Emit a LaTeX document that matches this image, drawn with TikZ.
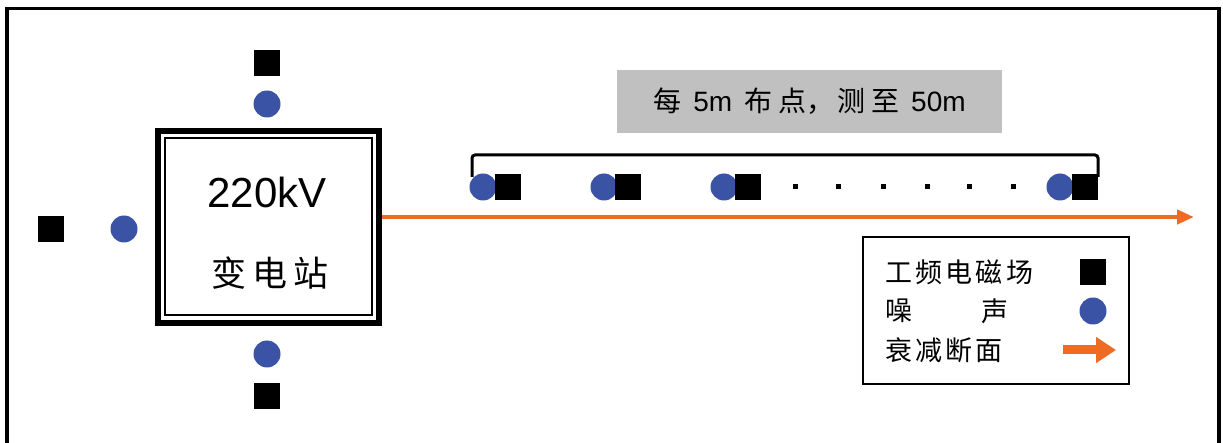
\documentclass[tikz,border=0pt]{standalone}
\usepackage{fontspec}
\setmainfont{Liberation Sans}
\newfontfamily\cjk{Noto Sans CJK SC}
\newfontfamily\cjksp[LetterSpace=12]{Noto Sans CJK SC}
\usetikzlibrary{arrows.meta}
\definecolor{ptblue}{HTML}{3A53A4}
\definecolor{ptorange}{HTML}{EE6B24}
\definecolor{notegray}{HTML}{C0C0C0}
\tikzset{
  sq/.style={fill=black,minimum size=26pt,inner sep=0pt,outer sep=0pt},
  ci/.style={circle,fill=ptblue,minimum size=27pt,inner sep=0pt,outer sep=0pt},
  dt/.style={fill=black,minimum size=5pt,inner sep=0pt},
  lgtext/.style={inner sep=0pt,anchor=west,font=\fontsize{27}{30}\selectfont\cjksp},
}
\begin{document}
\begin{tikzpicture}[x=1pt,y=-1pt]
\useasboundingbox (0,0) rectangle (1223,443);
% frame
\draw[line width=3.5pt] (7,460) -- (7,8.5) -- (1219,8.5) -- (1219,460);
% substation
\node[draw,line width=6pt,minimum width=221pt,minimum height=192pt,inner sep=0pt] (sub) at (268.5,227) {};
\node[draw,line width=2pt,minimum width=207pt,minimum height=177pt,inner sep=0pt] (subin) at (268.5,226.5) {};
\node[inner sep=0pt,font=\fontsize{42}{44}\selectfont] (kv) at (267,192) {220kV};
\node[inner sep=0pt,font=\fontsize{35}{40}\selectfont\cjk\addfontfeature{LetterSpace=16}] (bdz) at (270,273) {变电站};
% markers around
\node[sq] (sqt) at (267,63) {};
\node[ci] (cit) at (267,104) {};
\node[sq] (sql) at (51,229) {};
\node[ci] (cil) at (124,229) {};
\node[ci] (cib) at (267,354) {};
\node[sq] (sqb) at (267,396) {};
% attenuation line
\coordinate (arrend) at (1194,217);
\draw[ptorange,line width=4.5pt,-{Triangle[length=17pt,width=14pt]}] (sub.east |- 0,217) -- (arrend);
% note box
\node[fill=notegray,minimum width=385pt,minimum height=63pt,inner sep=0pt,font=\fontsize{28}{30}\selectfont] (note) at (809.5,101.5)
  {{\cjk 每}\hspace{12pt}5m\hspace{12pt}{\cjk 布\hspace{6pt}点，\hspace{3pt}测\hspace{6pt}至}\hspace{12pt}50m};
% bracket
\draw[line width=3pt,rounded corners=3pt] (472,177) -- (472,155) -- (1098,155) -- (1098,177);
% row of markers
\node[ci] (c1) at (483,187) {};
\node[sq] (s1) at (508,187) {};
\node[ci] (c2) at (604,187) {};
\node[sq] (s2) at (628,187) {};
\node[ci] (c3) at (724,187) {};
\node[sq] (s3) at (748,187) {};
\node[dt] (d1) at (795,187) {};
\node[dt] (d2) at (838,187) {};
\node[dt] (d3) at (883,187) {};
\node[dt] (d4) at (927,187) {};
\node[dt] (d5) at (969,187) {};
\node[dt] (d6) at (1013,187) {};
\node[ci] (c4) at (1060,187) {};
\node[sq] (s4) at (1085,187) {};
% legend
\node[draw,line width=2pt,minimum width=266pt,minimum height=147pt,inner sep=0pt] (legend) at (996,310.5) {};
\node[lgtext] (l1) at (885,272) {工频电磁场};
\node[lgtext] (l2a) at (885,311) {噪};
\node[lgtext] (l2b) at (981,311) {声};
\node[lgtext] (l3) at (885,350) {衰减断面};
\node[sq] (lsq) at (1093,272) {};
\node[ci] (lci) at (1093,311) {};
\coordinate (la0) at (1063,350);
\coordinate (la1) at (1116,350);
\draw[ptorange,line width=9pt,-{Triangle[length=20pt,width=25pt]}] (la0) -- (la1);
\end{tikzpicture}
\end{document}
